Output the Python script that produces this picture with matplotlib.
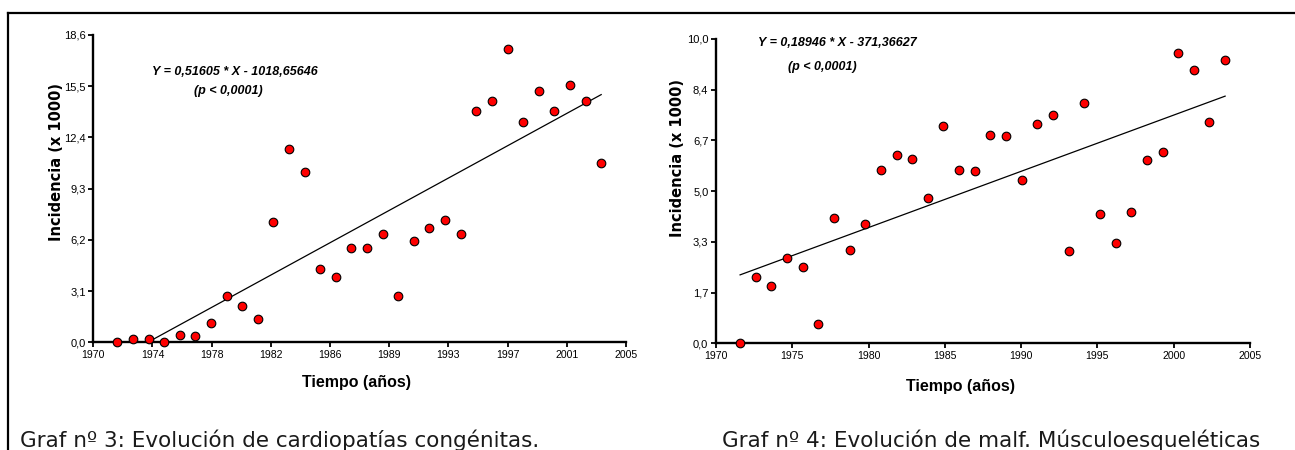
import numpy as np
import matplotlib
matplotlib.use("Agg")
import matplotlib.pyplot as plt
from matplotlib.lines import Line2D

# years of the observations (one per year)
years = list(range(1972, 2004))

# Graf 3: cardiopatias congenitas (incidencia x 1000)
cardio = [0.0, 0.22, 0.22, 0.0, 0.46, 0.38, 1.19, 2.81, 2.20, 1.39,
          7.30, 11.73, 10.31, 4.43, 3.98, 5.68, 5.68, 6.57, 2.81, 6.13,
          6.91, 7.38, 6.57, 14.01, 14.62, 17.77, 13.36, 15.20, 14.01, 15.57,
          14.62, 10.84]

# Graf 4: malf. musculoesqueleticas (incidencia x 1000)
musculo = [0.0, 2.19, 1.87, 2.79, 2.51, 0.62, 4.13, 3.06, 3.93, 5.70,
           6.19, 6.06, 4.76, 7.13, 5.70, 5.67, 6.86, 6.82, 5.35, 7.21,
           7.50, 3.03, 7.89, 4.25, 3.30, 4.33, 6.02, 6.30, 9.55, 8.99,
           7.28, 9.31]

# regression coefficients shown on the charts
fit_cardio = (0.51605, -1018.65646)
fit_musculo = (0.18946, -371.36627)

xticklabels_3 = ["1970", "1974", "1978", "1982", "1986", "1989", "1993", "1997", "2001", "2005"]
yticklabels_3 = ["0,0", "3,1", "6,2", "9,3", "12,4", "15,5", "18,6"]
xticklabels_4 = ["1970", "1975", "1980", "1985", "1990", "1995", "2000", "2005"]
yticklabels_4 = ["0,0", "1,7", "3,3", "5,0", "6,7", "8,4", "10,0"]

W, H = 1295, 450
fig = plt.figure(figsize=(W / 100, H / 100), dpi=100)
fig.patch.set_facecolor("white")

# frame lines of the page (top and left)
fig.add_artist(Line2D([8 / W, 1.0], [1 - 13 / H, 1 - 13 / H], color="black", lw=1.6))
fig.add_artist(Line2D([8 / W, 8 / W], [0.0, 1 - 13 / H], color="black", lw=1.6))

xlim = (1970.46, 2004.59)


def draw_panel(rect, values, fit, ymax, xlabels, ylabels):
    ax = fig.add_axes(rect)
    for s in ["top", "right"]:
        ax.spines[s].set_visible(False)
    for s in ["left", "bottom"]:
        ax.spines[s].set_linewidth(1.7)
    ax.set_xlim(*xlim)
    ax.set_ylim(0, ymax)
    ax.set_xticks(np.linspace(xlim[0], xlim[1], len(xlabels)))
    ax.set_xticklabels(xlabels, fontfamily="Liberation Sans", fontsize=7.6)
    ax.set_yticks(np.linspace(0, ymax, len(ylabels)))
    ax.set_yticklabels(ylabels, fontfamily="Liberation Sans", fontsize=8)
    ax.tick_params(direction="out", length=3.5, width=1.3, pad=2)

    a, b = fit
    xs = np.array([years[0], years[-1]])
    ax.plot(xs, a * xs + b, color="black", lw=0.9, zorder=2)
    ax.plot(years, values, "o", color="#ff0000", markeredgecolor="black",
            markeredgewidth=0.8, markersize=6.2, clip_on=False, zorder=5)
    return ax


ax1 = draw_panel([93.3 / W, 1 - 342.3 / H, 532.7 / W, 307.3 / H],
                 cardio, fit_cardio, 18.6, xticklabels_3, yticklabels_3)
ax2 = draw_panel([716 / W, 1 - 343.3 / H, 534 / W, 304.3 / H],
                 musculo, fit_musculo, 10.0, xticklabels_4, yticklabels_4)

lab_kw = dict(fontweight="bold", ha="center", va="center")
fig.text(57 / W, 1 - 162 / H, "Incidencia (x 1000)", rotation=90,
         fontfamily="DejaVu Sans", fontsize=10.5, **lab_kw)
fig.text(677 / W, 1 - 158 / H, "Incidencia (x 1000)", rotation=90,
         fontfamily="DejaVu Sans", fontsize=10.5, **lab_kw)
fig.text(357 / W, 1 - 383 / H, "Tiempo (años)", fontfamily="Liberation Sans",
         fontsize=11.5, **lab_kw)
fig.text(960 / W, 1 - 387 / H, "Tiempo (años)", fontfamily="Liberation Sans",
         fontsize=11.5, **lab_kw)

eq_kw = dict(fontfamily="Liberation Sans", fontweight="bold", fontstyle="italic",
             fontsize=9, ha="center", va="center")
fig.text(234.7 / W, 1 - 71.7 / H, "Y = 0,51605 * X - 1018,65646", **eq_kw)
fig.text(228 / W, 1 - 90.7 / H, "(p < 0,0001)", **eq_kw)
fig.text(837.5 / W, 1 - 42.7 / H, "Y = 0,18946 * X - 371,36627", **eq_kw)
fig.text(822.5 / W, 1 - 66.7 / H, "(p < 0,0001)", **eq_kw)

cap_kw = dict(fontfamily="DejaVu Sans", fontsize=15.5, color="#1a1a1a",
              ha="left", va="baseline")
fig.text(20 / W, 1 - 447 / H, "Graf nº 3: Evolución de cardiopatías congénitas.", **cap_kw)
fig.text(722 / W, 1 - 447 / H, "Graf nº 4: Evolución de malf. Músculoesqueléticas", **cap_kw)

fig.savefig("out.png", dpi=100)
